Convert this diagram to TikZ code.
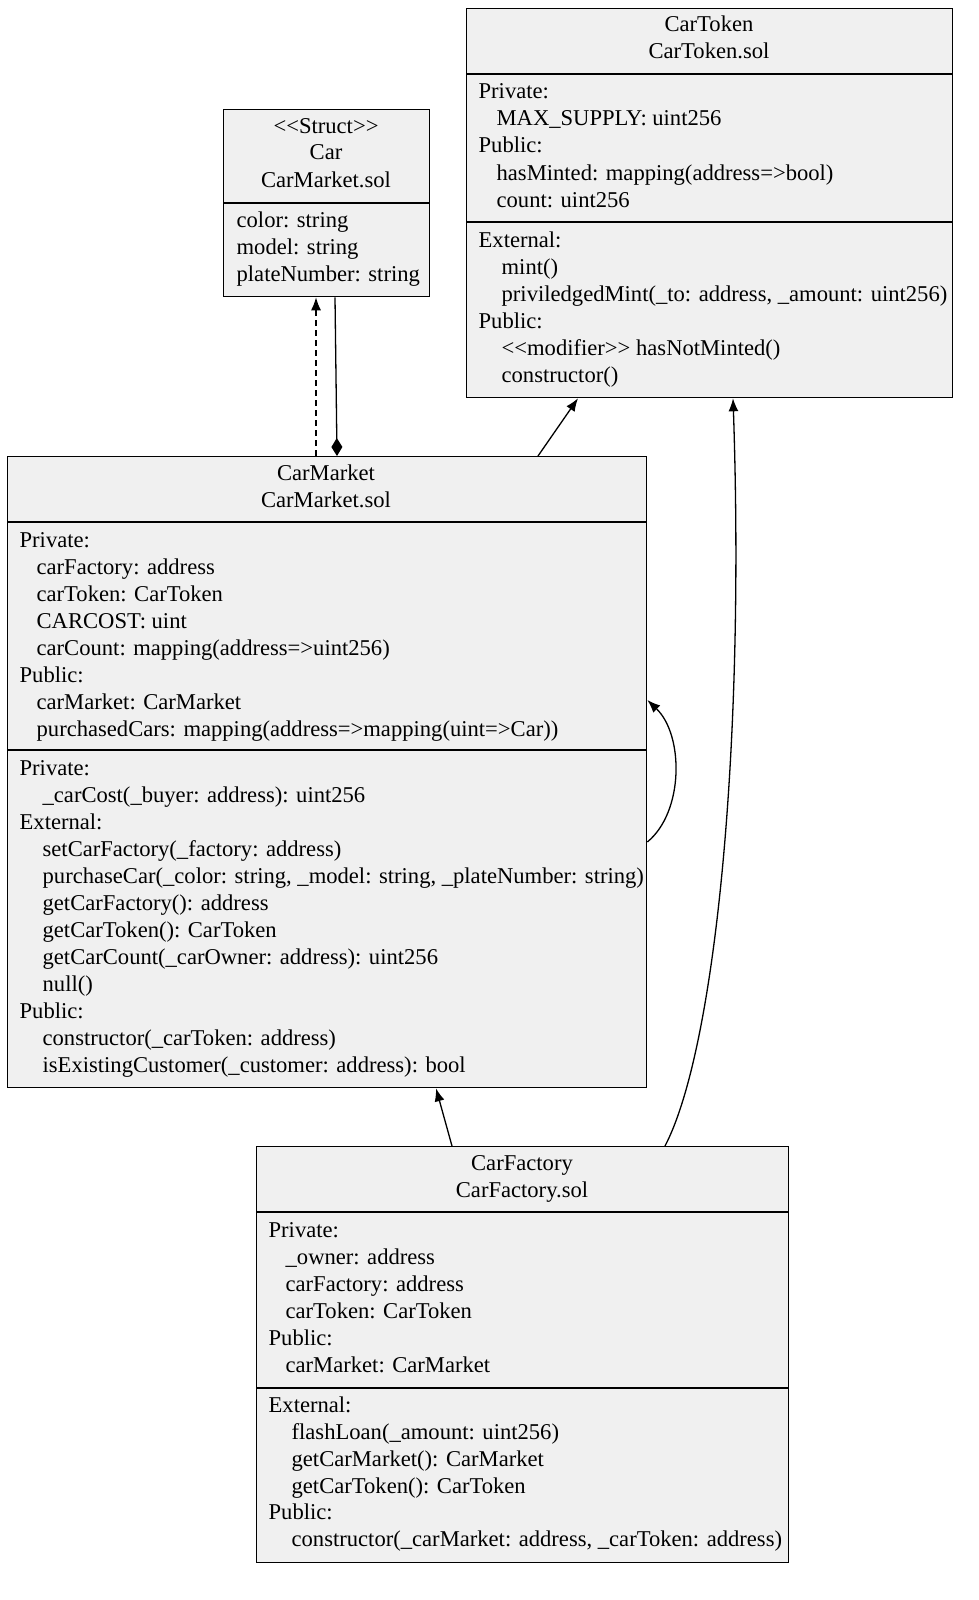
\documentclass[tikz,border=0pt]{standalone}
\usepackage{fontspec}
\setmainfont{Liberation Serif}
\usetikzlibrary{arrows.meta}
\newcommand{\lt}{\textless\kern0pt\textless}
\newcommand{\gt}{\textgreater\kern0pt\textgreater}
\tikzset{
	every path/.style = {line width=1.3pt},
	box/.style={draw, fill=gray!12, anchor=north west, inner sep=0pt},
	txt/.style={anchor=base west, inner sep=0pt},
	head/.style={anchor=base, inner sep=0pt},
	dep/.style={-{Latex[length=13pt,width=10pt]}}
}
\begin{document}
\begin{tikzpicture}[x=1pt,y=-1pt,font=\fontsize{22.6}{27}\selectfont]
	\useasboundingbox (0,0) rectangle (978,1600);
	% boxes
	\node[box, minimum width=486, minimum height=389] (tok) at (466,8) {};
	\node[box, minimum width=206, minimum height=187] (car) at (223,109) {};
	\node[box, minimum width=639, minimum height=631] (mkt) at (7,456) {};
	\node[box, minimum width=532, minimum height=416] (fac) at (256,1146) {};
	\draw (466,74) -- (952,74) (466,222) -- (952,222);
	\draw (223,203) -- (429,203);
	\draw (7,522) -- (646,522) (7,750) -- (646,750);
	\draw (256,1212) -- (788,1212) (256,1388) -- (788,1388);
	% headers
	\foreach \y/\t in {25/CarToken, 52/CarToken.sol}
		\node[head] (tokh\y) at (709,\y+7) {\t};
	\foreach \y/\t in {127/\lt Struct\gt, 153/Car, 180/CarMarket.sol}
		\node[head] (carh\y) at (326,\y+7) {\t};
	\foreach \y/\t in {473/CarMarket, 500/CarMarket.sol}
		\node[head] (mkth\y) at (326,\y+7) {\t};
	\foreach \y/\t in {1163/CarFactory, 1190/CarFactory.sol}
		\node[head] (fach\y) at (522,\y+7) {\t};
	% members
	\foreach \y/\x/\t in {92/478/{Private:}, 119/496/{MAX\_SUPPLY: uint256}, 146/478/{Public:},
		173/496/{hasMinted: mapping(address=>bool)}, 200/496/{count: uint256},
		240/478/{External:}, 267/501/{mint()}, 294/501/{priviledgedMint(\_to: address, \_amount: uint256)},
		321/478/{Public:}, 348/501/{\lt modifier\gt\ hasNotMinted()}, 375/501/{constructor()}}
		\node[txt] (tok\y) at (\x,\y+7) {\t};
	\foreach \y/\t in {220/{color: string}, 247/{model: string}, 274/{plateNumber: string}}
		\node[txt] (car\y) at (236,\y+7) {\t};
	\foreach \y/\x/\t in {540/19/{Private:}, 567/36/{carFactory: address}, 594/36/{carToken: CarToken},
		621/36/{CARCOST: uint}, 648/36/{carCount: mapping(address=>uint256)}, 675/19/{Public:},
		702/36/{carMarket: CarMarket}, 729/36/{purchasedCars: mapping(address=>mapping(uint=>Car))},
		768/19/{Private:}, 795/42/{\_carCost(\_buyer: address): uint256}, 822/19/{External:},
		849/42/{setCarFactory(\_factory: address)},
		876/42/{purchaseCar(\_color: string, \_model: string, \_plateNumber: string)},
		903/42/{getCarFactory(): address}, 930/42/{getCarToken(): CarToken},
		957/42/{getCarCount(\_carOwner: address): uint256}, 984/42/{null()}, 1011/19/{Public:},
		1038/42/{constructor(\_carToken: address)}, 1065/42/{isExistingCustomer(\_customer: address): bool}}
		\node[txt] (mkt\y) at (\x,\y+7) {\t};
	\foreach \y/\x/\t in {1230/268/{Private:}, 1257/285/{\_owner: address}, 1284/285/{carFactory: address},
		1311/285/{carToken: CarToken}, 1338/268/{Public:}, 1365/285/{carMarket: CarMarket},
		1405/268/{External:}, 1432/291/{flashLoan(\_amount: uint256)}, 1459/291/{getCarMarket(): CarMarket},
		1486/291/{getCarToken(): CarToken}, 1512/268/{Public:},
		1539/291/{constructor(\_carMarket: address, \_carToken: address)}}
		\node[txt] (fac\y) at (\x,\y+7) {\t};
	% connectors
	\draw[dep, dash pattern=on 6pt off 4pt] (mkt.north -| 316,0) -- (car.south -| 316,0);
	\draw[-{Diamond[length=18pt,width=11pt]}] (car.south -| 335,0) -- (mkt.north -| 337,0);
	\draw[dep] (mkt.north -| 538,0) -- (tok.south -| 578,0);
	\draw[dep] (mkt.east |- 0,842) .. controls (684,812) and (684,735) .. (mkt.east |- 0,700);
	\draw[dep] (fac.north -| 452,0) -- (mkt.south -| 436,0);
	\draw[dep] (fac.north -| 665,0) .. controls (715,1050) and (745,750) .. (tok.south -| 733,0);
\end{tikzpicture}
\end{document}
